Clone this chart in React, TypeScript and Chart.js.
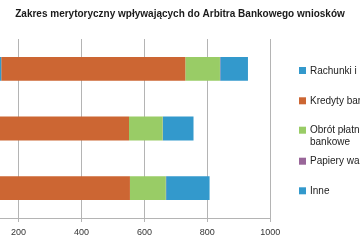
import { useEffect, useRef } from "react";
import { Chart, registerables } from "chart.js";

Chart.register(...registerables);

// ---- data ----
const title = "Zakres merytoryczny wpływających do Arbitra Bankowego wniosków";
const categories = ["2012", "2011", "2010"];
const seriesNames = [
  "Rachunki i lokaty",
  "Kredyty bankowe",
  "Obrót płatniczy i karty bankowe",
  "Papiery wartościowe",
  "Inne",
];
const rachunki = [145, 120, 100];
const kredyty = [585, 431, 454];
const obrot = [110, 107, 114];
const papiery = [1, 1, 1];
const inne = [88, 97, 138];
const xMin = 0;
const xMax = 1000;
const xStep = 200;

// ---- styles / layout ----
const colors = ["#3399CC", "#CC6633", "#99CC66", "#996699", "#3399CC"];
const FONT = '"Liberation Sans", Arial, Helvetica, sans-serif';
const CANVAS_W = 760;
const CANVAS_H = 240;
const OFFSET_X = -200;
const LEGEND_SQ_X = 499;
const LEGEND_TEXT_X = 510;
const LEGEND_Y = [70.5, 100.8, 130.2, 161.2, 190.8];
const LEGEND_LINE_H = 11.7;
const LEGEND_MAX_W = 118;

function wrapText(ctx: CanvasRenderingContext2D, text: string, maxW: number): string[] {
  const words = text.split(" ");
  const lines: string[] = [];
  let cur = "";
  for (const w of words) {
    const test = cur ? cur + " " + w : w;
    if (cur && ctx.measureText(test).width > maxW) {
      lines.push(cur);
      cur = w;
    } else {
      cur = test;
    }
  }
  if (cur) lines.push(cur);
  return lines;
}

const overlayPlugin = {
  id: "overlay",
  afterDraw(chart: any) {
    const ctx: CanvasRenderingContext2D = chart.ctx;
    ctx.save();
    // title
    ctx.font = `bold 10px ${FONT}`;
    ctx.fillStyle = "#1a1a1a";
    ctx.textAlign = "center";
    ctx.textBaseline = "middle";
    ctx.fillText(title, CANVAS_W / 2, 14);
    // legend
    ctx.font = `10px ${FONT}`;
    ctx.textAlign = "left";
    chart.data.datasets.forEach((ds: any, i: number) => {
      const cy = LEGEND_Y[i];
      ctx.fillStyle = ds.backgroundColor;
      ctx.fillRect(LEGEND_SQ_X, cy - 3.5, 7, 7);
      ctx.fillStyle = "#222";
      wrapText(ctx, ds.label, LEGEND_MAX_W).forEach((line, k) => {
        ctx.fillText(line, LEGEND_TEXT_X, cy + 0.5 + k * LEGEND_LINE_H);
      });
    });
    ctx.restore();
  },
};

export default function App() {
  const ref = useRef<HTMLCanvasElement | null>(null);

  useEffect(() => {
    if (!ref.current) return;
    const series = [rachunki, kredyty, obrot, papiery, inne];
    const chart = new Chart(ref.current, {
      type: "bar",
      data: {
        labels: categories,
        datasets: series.map((data, i) => ({
          label: seriesNames[i],
          data,
          backgroundColor: colors[i],
          borderWidth: 0,
          barPercentage: 0.4,
          categoryPercentage: 1,
        })),
      },
      options: {
        indexAxis: "y",
        responsive: false,
        animation: false,
        layout: { padding: { left: 0, right: CANVAS_W - 470.3, top: 39, bottom: 0 } },
        plugins: {
          legend: { display: false },
          title: { display: false },
          tooltip: { enabled: false },
        },
        scales: {
          x: {
            stacked: true,
            min: xMin,
            max: xMax,
            ticks: {
              stepSize: xStep,
              color: "#333",
              font: { family: FONT, size: 9 },
              padding: 5,
              maxRotation: 0,
              callback: (v: any) => String(v),
            },
            grid: { color: "#b4b4b4", lineWidth: 1, tickLength: 4 },
            border: { color: "#b4b4b4" },
            afterFit: (s: any) => {
              s.height = 22;
            },
          },
          y: {
            stacked: true,
            grid: { display: false },
            border: { display: false },
            ticks: { color: "#333", font: { family: FONT, size: 9 } },
            afterFit: (s: any) => {
              s.width = 155.6;
            },
          },
        },
      },
      plugins: [overlayPlugin],
    });
    return () => chart.destroy();
  }, []);

  return (
    <canvas
      ref={ref}
      width={CANVAS_W}
      height={CANVAS_H}
      style={{
        position: "fixed",
        left: OFFSET_X,
        top: 0,
        width: CANVAS_W,
        height: CANVAS_H,
        background: "#fff",
      }}
    />
  );
}
